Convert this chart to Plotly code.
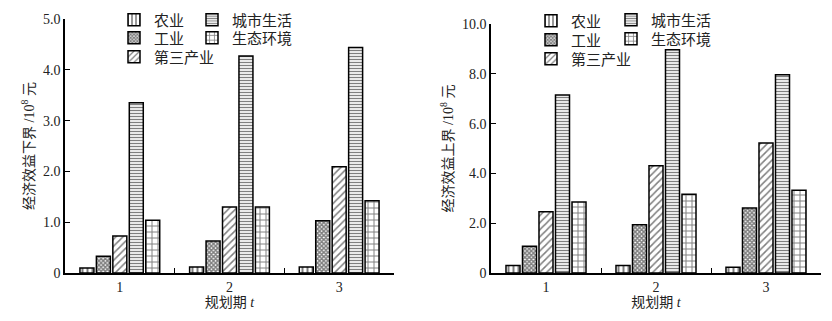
import plotly.graph_objects as go

periods = ["1", "2", "3"]
sectors = ["农业", "工业", "第三产业", "城市生活", "生态环境"]
lower = {
    "农业": [0.10, 0.12, 0.12],
    "工业": [0.33, 0.63, 1.03],
    "第三产业": [0.73, 1.30, 2.09],
    "城市生活": [3.35, 4.27, 4.44],
    "生态环境": [1.04, 1.30, 1.42],
}
upper = {
    "农业": [0.30, 0.30, 0.23],
    "工业": [1.07, 1.94, 2.61],
    "第三产业": [2.46, 4.31, 5.22],
    "城市生活": [7.15, 8.97, 7.96],
    "生态环境": [2.85, 3.16, 3.32],
}
left_ticks = [0, 1, 2, 3, 4, 5]
left_ticktext = ["0", "1.0", "2.0", "3.0", "4.0", "5.0"]
right_ticks = [0, 2, 4, 6, 8, 10]
right_ticktext = ["0", "2.0", "4.0", "6.0", "8.0", "10.0"]

patterns = {
    "农业": dict(shape="|", size=5, solidity=0.4),
    "工业": dict(shape="x", size=3, solidity=0.75),
    "第三产业": dict(shape="/", size=5, solidity=0.3),
    "城市生活": dict(shape="-", size=3, solidity=0.45),
    "生态环境": dict(shape="+", size=6, solidity=0.3),
}
# legend entry anchor (text left x, row centre y) in page pixels, per chart
legend_pos = [
    {"农业": (152, 20), "工业": (152, 38), "第三产业": (152, 57),
     "城市生活": (230, 20), "生态环境": (230, 38)},
    {"农业": (569, 21), "工业": (569, 40), "第三产业": (569, 59),
     "城市生活": (649, 20), "生态环境": (649, 39)},
]

FONT = "Liberation Serif, Noto Sans CJK SC, serif"
OFF = 8  # page body margin
W, H = 832 - OFF, 321 - OFF

def px_x(p):
    return (p - OFF) / W

def px_y(p):
    return 1 - (p - OFF) / H

fig = go.Figure()
legends = {}
k = 1
for si, (data, xa, ya) in enumerate([(lower, "x", "y"), (upper, "x2", "y2")]):
    for s in sectors:
        k += 1
        lg = f"legend{k}"
        tx, ty = legend_pos[si][s]
        legends[lg] = dict(x=px_x(tx - 38), y=px_y(ty), xanchor="left", yanchor="middle",
                           bgcolor="rgba(0,0,0,0)", itemwidth=30,
                           font=dict(family=FONT, size=15, color="#222"))
        fig.add_trace(go.Bar(
            x=periods, y=data[s], name=s, xaxis=xa, yaxis=ya, legend=lg,
            marker=dict(color="white", line=dict(color="black", width=1.5),
                        pattern=dict(fgcolor="black", bgcolor="white", fillmode="overlay",
                                     **patterns[s])),
        ))

axis_common = dict(showline=True, linecolor="black", linewidth=1.5, ticks="inside",
                   ticklen=5, tickcolor="black", tickwidth=1, showgrid=False, zeroline=False,
                   automargin=False,
                   tickfont=dict(family=FONT, size=14, color="#222"))

fig.update_layout(
    width=W, height=H, margin=dict(l=0, r=0, t=0, b=0, autoexpand=False),
    paper_bgcolor="white", plot_bgcolor="white", showlegend=True,
    barmode="group", bargap=0.25, bargroupgap=0.15,
    font=dict(family=FONT, size=14, color="#222"),
    xaxis=dict(domain=[px_x(65), px_x(394)], type="category", tickson="boundaries",
               anchor="y", title=dict(text="规划期 <i>t</i>", standoff=2,
                                      font=dict(size=14)), **axis_common),
    yaxis=dict(domain=[px_y(273), px_y(19)], range=[0, 5.0], anchor="x",
               tickvals=left_ticks, ticktext=left_ticktext,
               title=dict(text="经济效益下界 /10<sup>8</sup> 元", standoff=5,
                          font=dict(size=14)), **axis_common),
    xaxis2=dict(domain=[px_x(491), px_x(821)], type="category", tickson="boundaries",
                anchor="y2", title=dict(text="规划期 <i>t</i>", standoff=2,
                                        font=dict(size=14)), **axis_common),
    yaxis2=dict(domain=[px_y(273), px_y(24)], range=[0, 10.0], anchor="x2",
                tickvals=right_ticks, ticktext=right_ticktext,
                title=dict(text="经济效益上界 /10<sup>8</sup> 元", standoff=5,
                           font=dict(size=14)), **axis_common),
    **legends,
)

fig.write_html("out.html")
